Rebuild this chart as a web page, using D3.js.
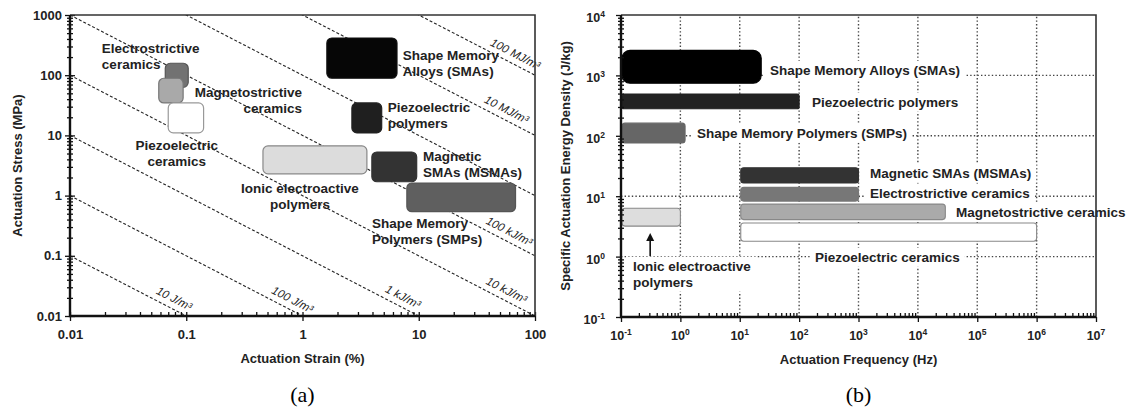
<!DOCTYPE html>
<html>
<head>
<meta charset="utf-8">
<script src="https://cdn.jsdelivr.net/npm/d3@7"></script>
<style>
  body { margin: 0; background: #fff; }
  text { font-family: Arial, "Liberation Sans", sans-serif; }
</style>
</head>
<body>
<div class="center"></div>
<script>
// ---------- panel (a): actuation strain (%) vs actuation stress (MPa)
const aMaterials = ["Electrostrictive ceramics", "Magnetostrictive ceramics", "Piezoelectric ceramics",
  "Shape Memory Alloys (SMAs)", "Piezoelectric polymers", "Ionic electroactive polymers",
  "Magnetic SMAs (MSMAs)", "Shape Memory Polymers (SMPs)"];
const aStrain = [[0.066, 0.104], [0.058, 0.094], [0.070, 0.141], [1.62, 6.5], [2.66, 4.8], [0.457, 3.58], [3.95, 9.6], [7.9, 68]];
const aStress = [[63, 158], [34.6, 89], [11, 34.6], [89, 415], [11, 34.6], [2.3, 6.7], [1.7, 5.3], [0.54, 1.62]];
const aLabelLines = [["Electrostrictive", "ceramics"], ["Magnetostrictive", "ceramics"], ["Piezoelectric", "ceramics"],
  ["Shape Memory", "Alloys (SMAs)"], ["Piezoelectric", "polymers"], ["Ionic electroactive", "polymers"],
  ["Magnetic", "SMAs (MSMAs)"], ["Shape Memory", "Polymers (SMPs)"]];
const aLabelAt = [[0.0188, 283], [0.99, 52.6], [0.083, 6.9], [7.3, 217], [5.4, 29.6], [0.95, 1.34], [10.9, 4.55], [3.96, 0.35]];

// constant work density lines: stress * strain = c
const energyC = [0.001, 0.01, 0.1, 1, 10, 100, 1000, 10000];
const energyText = ["10 J/m³", "100 J/m³", "1 kJ/m³", "10 kJ/m³", "100 kJ/m³", "", "10 MJ/m³", "100 MJ/m³"];
const energyLabelStrain = [0.072, 0.75, 6.7, 52, 55, null, 52, 62];

const aXTicks = [0.01, 0.1, 1, 10, 100];
const aXTickLabels = ["0.01", "0.1", "1", "10", "100"];
const aYTicks = [0.01, 0.1, 1, 10, 100, 1000];
const aYTickLabels = ["0.01", "0.1", "1", "10", "100", "1000"];

// ---------- panel (b): actuation frequency (Hz) vs specific energy density (J/kg)
const bMaterials = ["Shape Memory Alloys (SMAs)", "Piezoelectric polymers", "Shape Memory Polymers (SMPs)",
  "Magnetic SMAs (MSMAs)", "Electrostrictive ceramics", "Magnetostrictive ceramics",
  "Piezoelectric ceramics", "Ionic electroactive polymers"];
const bFreq = [[0.1, 23], [0.1, 100], [0.1, 1.2], [10, 1000], [10, 1000], [10, 29000], [10, 1e6], [0.1, 1]];
const bEnergy = [[740, 2600], [280, 490], [76, 162], [16.6, 29.6], [8.3, 14], [4.1, 7.4], [1.8, 3.6], [3.2, 6.3]];
const bLabelLines = [["Shape Memory Alloys (SMAs)"], ["Piezoelectric polymers"], ["Shape Memory Polymers (SMPs)"],
  ["Magnetic SMAs (MSMAs)"], ["Electrostrictive ceramics"], ["Magnetostrictive ceramics"],
  ["Piezoelectric ceramics"], ["Ionic electroactive", "polymers"]];
const bLabelAt = [[32.3, 1228], [165, 363], [1.9, 111], [1563, 24.2], [1563, 11.3], [43900, 5.47], [185, 0.985], [0.159, 0.70]];
const arrowFreq = 0.31, arrowFrom = 1.02, arrowTo = 2.46;

const bXExp = [-1, 0, 1, 2, 3, 4, 5, 6, 7];
const bYExp = [-1, 0, 1, 2, 3, 4];
const bGridX = [1, 10, 100, 1000, 1e4, 1e5, 1e6];
const bGridY = [1, 10, 100, 1000];

// styles
const aFill = ["#727272", "#a9a9a9", "#ffffff", "#060606", "#1f1f1f", "#dcdcdc", "#333333", "#5f5f5f"];
const aStroke = ["#555", "#777", "#999", "#111", "#222", "#888", "#333", "#555"];
const bFill = ["#000000", "#222222", "#666666", "#333333", "#777777", "#aaaaaa", "#ffffff", "#dddddd"];
const bStroke = ["#000", "#222", "#666", "#333", "#777", "#888", "#888", "#888"];
const bRadius = [8, 2, 3, 3, 3, 3, 3, 3];

const svg = d3.select(".center").append("svg")
  .attr("width", 1129)
  .attr("height", 415);

// ================= panel (a)
const xA = d3.scaleLog().domain([0.01, 100]).range([70, 535]);
const yA = d3.scaleLog().domain([0.01, 1000]).range([316, 15]);

const gA = svg.append("g");

gA.append("clipPath").attr("id", "clipA")
  .append("rect")
  .attr("x", xA.range()[0]).attr("y", yA.range()[1])
  .attr("width", xA.range()[1] - xA.range()[0])
  .attr("height", yA.range()[0] - yA.range()[1]);

// dashed energy lines
const eLine = d3.line().x(d => xA(d[0])).y(d => yA(d[1]));
gA.append("g").attr("clip-path", "url(#clipA)")
  .selectAll("path")
  .data(energyC)
  .enter().append("path")
  .attr("d", c => eLine([[0.01, c / 0.01], [100, c / 100]]))
  .style("fill", "none")
  .style("stroke", "#222")
  .style("stroke-width", 1.1)
  .style("stroke-dasharray", "3,2");

const angle = Math.atan2(yA(1 / 100) - yA(1 / 0.01), xA(100) - xA(0.01)) * 180 / Math.PI;
energyC.forEach((c, i) => {
  if (!energyText[i]) return;
  const s = energyLabelStrain[i];
  gA.append("text")
    .attr("transform", `translate(${xA(s)},${yA(c / s)}) rotate(${angle})`)
    .attr("dy", -6)
    .attr("text-anchor", "middle")
    .style("font-size", "11.5px")
    .style("font-style", "italic")
    .style("fill", "#222")
    .text(energyText[i]);
});

// material boxes
gA.selectAll(".boxA")
  .data(aMaterials)
  .enter().append("rect")
  .attr("class", "boxA")
  .attr("x", (d, i) => xA(aStrain[i][0]))
  .attr("y", (d, i) => yA(aStress[i][1]))
  .attr("width", (d, i) => xA(aStrain[i][1]) - xA(aStrain[i][0]))
  .attr("height", (d, i) => yA(aStress[i][0]) - yA(aStress[i][1]))
  .attr("rx", 5)
  .style("fill", (d, i) => aFill[i])
  .style("stroke", (d, i) => aStroke[i])
  .style("stroke-width", 1.2);

// material labels
const aAnchor = ["start", "end", "middle", "start", "start", "middle", "start", "start"];
aMaterials.forEach((m, i) => {
  const t = gA.append("text")
    .attr("x", xA(aLabelAt[i][0]))
    .attr("y", yA(aLabelAt[i][1]))
    .attr("text-anchor", aAnchor[i])
    .style("font-size", "13.5px")
    .style("font-weight", "700")
    .style("fill", "#222");
  aLabelLines[i].forEach((line, k) => {
    t.append("tspan")
      .attr("x", xA(aLabelAt[i][0]))
      .attr("dy", k === 0 ? "0.35em" : 16)
      .text(line);
  });
});

// axes (a)
const aMinorX = xA.ticks().filter(v => !aXTicks.some(t => Math.abs(t - v) < v * 1e-6));
const aMinorY = yA.ticks().filter(v => !aYTicks.some(t => Math.abs(t - v) < v * 1e-6));

function styleAxis(g) {
  g.select(".domain").remove();
  g.selectAll("line").style("stroke", "#111").style("stroke-width", 1.3);
}

gA.append("g").attr("transform", `translate(0,${yA.range()[0]})`)
  .call(d3.axisBottom(xA).tickValues(aMinorX).tickSize(-4).tickFormat(""))
  .call(styleAxis);
gA.append("g").attr("transform", `translate(0,${yA.range()[0]})`)
  .call(d3.axisBottom(xA).tickValues(aXTicks).tickSize(5).tickFormat((d, i) => aXTickLabels[i]).tickPadding(9))
  .call(styleAxis)
  .selectAll("text").style("font-size", "13px").style("font-weight", "700").style("fill", "#222")
  .style("font-family", "Arial, 'Liberation Sans', sans-serif");
gA.append("g").attr("transform", `translate(0,${yA.range()[0]})`)
  .call(d3.axisBottom(xA).tickValues(aXTicks).tickSize(-4).tickFormat(""))
  .call(styleAxis);

gA.append("g").attr("transform", `translate(${xA.range()[0]},0)`)
  .call(d3.axisLeft(yA).tickValues(aMinorY).tickSize(3).tickFormat(""))
  .call(styleAxis);
gA.append("g").attr("transform", `translate(${xA.range()[0]},0)`)
  .call(d3.axisLeft(yA).tickValues(aMinorY).tickSize(-3).tickFormat(""))
  .call(styleAxis);
gA.append("g").attr("transform", `translate(${xA.range()[0]},0)`)
  .call(d3.axisLeft(yA).tickValues(aYTicks).tickSize(5).tickFormat((d, i) => aYTickLabels[i]).tickPadding(3))
  .call(styleAxis)
  .selectAll("text").style("font-size", "13px").style("font-weight", "700").style("fill", "#222")
  .style("font-family", "Arial, 'Liberation Sans', sans-serif");
gA.append("g").attr("transform", `translate(${xA.range()[0]},0)`)
  .call(d3.axisLeft(yA).tickValues(aYTicks).tickSize(-5).tickFormat(""))
  .call(styleAxis);

// frame
gA.append("path")
  .attr("d", `M${xA.range()[0]},${yA.range()[1]}H${xA.range()[1]}V${yA.range()[0]}`)
  .style("fill", "none").style("stroke", "#333").style("stroke-width", 1.6);
gA.append("path")
  .attr("d", `M${xA.range()[0]},${yA.range()[1]}V${yA.range()[0]}H${xA.range()[1]}`)
  .style("fill", "none").style("stroke", "#111").style("stroke-width", 2.4);

gA.append("text")
  .attr("x", (xA.range()[0] + xA.range()[1]) / 2)
  .attr("y", 363)
  .attr("text-anchor", "middle")
  .style("font-size", "13px").style("font-weight", "700").style("fill", "#222")
  .text("Actuation Strain (%)");
gA.append("text")
  .attr("transform", `translate(22,${(yA.range()[0] + yA.range()[1]) / 2}) rotate(-90)`)
  .attr("text-anchor", "middle")
  .style("font-size", "13px").style("font-weight", "700").style("fill", "#222")
  .text("Actuation Stress (MPa)");
gA.append("text")
  .attr("x", (xA.range()[0] + xA.range()[1]) / 2)
  .attr("y", 402)
  .attr("text-anchor", "middle")
  .style("font-family", "'Times New Roman', 'Liberation Serif', serif")
  .style("font-size", "22px")
  .text("(a)");

// ================= panel (b)
const xB = d3.scaleLog().domain([0.1, 1e7]).range([621, 1096]);
const yB = d3.scaleLog().domain([0.1, 1e4]).range([317, 15]);

const gB = svg.append("g");

// dotted grid
gB.selectAll(".gx").data(bGridX).enter().append("line")
  .attr("x1", d => xB(d)).attr("x2", d => xB(d))
  .attr("y1", yB.range()[0]).attr("y2", yB.range()[1])
  .style("stroke", "#444").style("stroke-width", 1.4).style("stroke-dasharray", "1.4,2.2");
gB.selectAll(".gy").data(bGridY).enter().append("line")
  .attr("y1", d => yB(d)).attr("y2", d => yB(d))
  .attr("x1", xB.range()[0]).attr("x2", xB.range()[1])
  .style("stroke", "#444").style("stroke-width", 1.4).style("stroke-dasharray", "1.4,2.2");

// bars
gB.selectAll(".boxB")
  .data(bMaterials)
  .enter().append("rect")
  .attr("class", "boxB")
  .attr("x", (d, i) => xB(bFreq[i][0]) + 1)
  .attr("y", (d, i) => yB(bEnergy[i][1]))
  .attr("width", (d, i) => xB(bFreq[i][1]) - xB(bFreq[i][0]) - 1)
  .attr("height", (d, i) => yB(bEnergy[i][0]) - yB(bEnergy[i][1]))
  .attr("rx", (d, i) => bRadius[i])
  .style("fill", (d, i) => bFill[i])
  .style("stroke", (d, i) => bStroke[i])
  .style("stroke-width", 1.1);

// labels with white backing so the grid breaks around them
bMaterials.forEach((m, i) => {
  const g = gB.append("g");
  const t = g.append("text")
    .attr("x", xB(bLabelAt[i][0]))
    .attr("y", yB(bLabelAt[i][1]))
    .style("font-size", "13.5px")
    .style("font-weight", "700")
    .style("fill", "#222");
  bLabelLines[i].forEach((line, k) => {
    t.append("tspan")
      .attr("x", xB(bLabelAt[i][0]))
      .attr("dy", k === 0 ? "0.35em" : 16)
      .text(line);
  });
  const bb = t.node().getBBox();
  g.insert("rect", "text")
    .attr("x", bb.x - 5).attr("y", bb.y - 2)
    .attr("width", bb.width + 10).attr("height", bb.height + 4)
    .style("fill", "#fff");
});

// arrow to ionic bar
gB.append("line")
  .attr("x1", xB(arrowFreq)).attr("x2", xB(arrowFreq))
  .attr("y1", yB(arrowFrom)).attr("y2", yB(arrowTo) + 6)
  .style("stroke", "#111").style("stroke-width", 1.6);
gB.append("path")
  .attr("d", `M${xB(arrowFreq)},${yB(arrowTo)}l-4,8h8z`)
  .style("fill", "#111");

// axes (b)
const bMinorX = xB.ticks().filter(v => !bXExp.some(e => Math.abs(Math.pow(10, e) - v) < v * 1e-6));
const bMinorY = yB.ticks().filter(v => !bYExp.some(e => Math.abs(Math.pow(10, e) - v) < v * 1e-6));

gB.append("g").attr("transform", `translate(0,${yB.range()[0]})`)
  .call(d3.axisBottom(xB).tickValues(bMinorX).tickSize(-4).tickFormat(""))
  .call(styleAxis);
gB.append("g").attr("transform", `translate(0,${yB.range()[0]})`)
  .call(d3.axisBottom(xB).tickValues(bXExp.map(e => Math.pow(10, e))).tickSize(5).tickFormat(""))
  .call(styleAxis);
gB.append("g").attr("transform", `translate(${xB.range()[0]},0)`)
  .call(d3.axisLeft(yB).tickValues(bMinorY).tickSize(3).tickFormat(""))
  .call(styleAxis);
gB.append("g").attr("transform", `translate(${xB.range()[0]},0)`)
  .call(d3.axisLeft(yB).tickValues(bMinorY).tickSize(-3).tickFormat(""))
  .call(styleAxis);
gB.append("g").attr("transform", `translate(${xB.range()[0]},0)`)
  .call(d3.axisLeft(yB).tickValues(bYExp.map(e => Math.pow(10, e))).tickSize(5).tickFormat(""))
  .call(styleAxis);

function powLabel(sel, e) {
  sel.append("tspan").text("10");
  sel.append("tspan").attr("dy", -5).style("font-size", "8.5px").text(e < 0 ? "-" + (-e) : e);
}
bXExp.forEach(e => {
  gB.append("text")
    .attr("x", xB(Math.pow(10, e)))
    .attr("y", 340)
    .attr("text-anchor", "middle")
    .style("font-size", "12.5px").style("font-weight", "700").style("fill", "#222")
    .call(powLabel, e);
});
bYExp.forEach(e => {
  gB.append("text")
    .attr("x", xB.range()[0] - 16)
    .attr("y", yB(Math.pow(10, e)) + 7)
    .attr("text-anchor", "end")
    .style("font-size", "12.5px").style("font-weight", "700").style("fill", "#222")
    .call(powLabel, e);
});

gB.append("path")
  .attr("d", `M${xB.range()[0]},${yB.range()[1]}H${xB.range()[1]}V${yB.range()[0]}`)
  .style("fill", "none").style("stroke", "#333").style("stroke-width", 1.6);
gB.append("path")
  .attr("d", `M${xB.range()[0]},${yB.range()[1]}V${yB.range()[0]}H${xB.range()[1]}`)
  .style("fill", "none").style("stroke", "#111").style("stroke-width", 2.4);

gB.append("text")
  .attr("x", (xB.range()[0] + xB.range()[1]) / 2)
  .attr("y", 364)
  .attr("text-anchor", "middle")
  .style("font-size", "13px").style("font-weight", "700").style("fill", "#222")
  .text("Actuation Frequency (Hz)");
gB.append("text")
  .attr("transform", `translate(570,${(yB.range()[0] + yB.range()[1]) / 2}) rotate(-90)`)
  .attr("text-anchor", "middle")
  .style("font-size", "13px").style("font-weight", "700").style("fill", "#222")
  .text("Specific Actuation Energy Density (J/kg)");
gB.append("text")
  .attr("x", (xB.range()[0] + xB.range()[1]) / 2)
  .attr("y", 402)
  .attr("text-anchor", "middle")
  .style("font-family", "'Times New Roman', 'Liberation Serif', serif")
  .style("font-size", "22px")
  .text("(b)");
</script>
</body>
</html>
